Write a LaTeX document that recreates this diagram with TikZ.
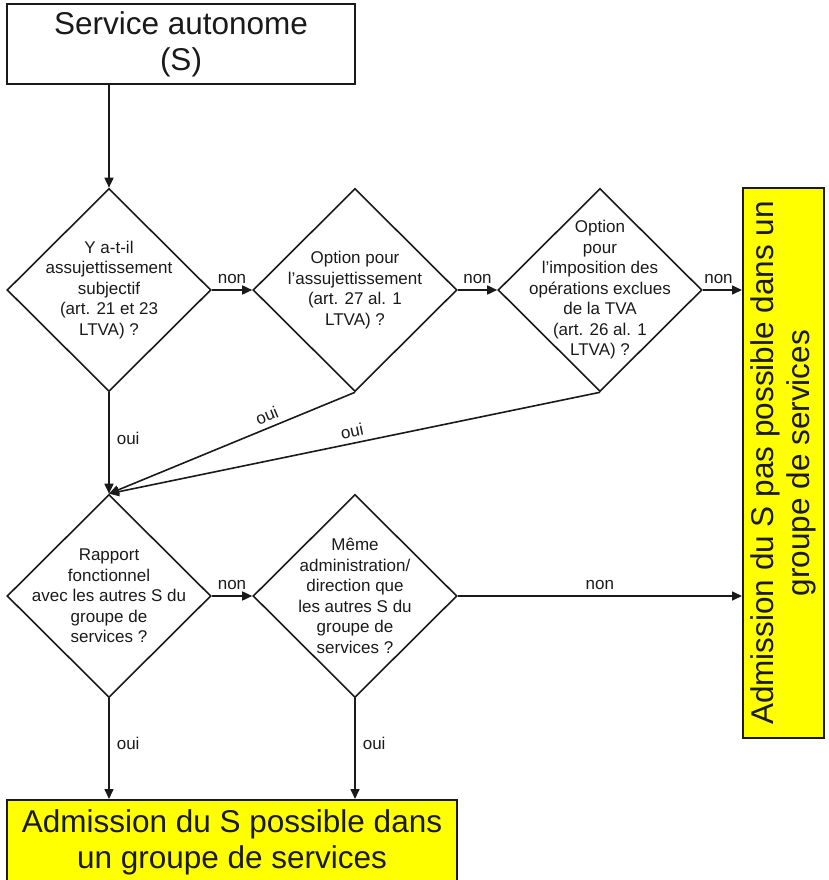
\documentclass[tikz,border=0pt]{standalone}
\usepackage{fontspec}
\setmainfont{Liberation Sans}
\usetikzlibrary{arrows.meta, positioning, shapes.geometric, calc}
\definecolor{cyellow}{HTML}{FFFF00}
\definecolor{cline}{HTML}{1A1A1A}
\tikzset{
  every picture/.style={line width=1.6pt, x=1pt, y=-1pt},
  box/.style={draw=cline, fill=#1, line width=2pt, align=center, inner sep=0pt, text=cline,
    font=\fontsize{31.5}{36}\selectfont},
  box/.default=white,
  ask/.style={draw=cline, diamond, aspect=1, minimum width=204pt, minimum height=203pt, inner sep=0pt},
  asktext/.style={align=center, text=cline, font=\fontsize{17}{20.5}\selectfont},
  arrow/.style={-{Triangle[length=10pt,width=9pt]}, draw=cline, line width=1.6pt},
  lbl/.style={font=\fontsize{17}{20}\selectfont, text=cline, inner sep=1pt},
}

\begin{document}
\begin{tikzpicture}
  \useasboundingbox (0,0) rectangle (828,880);
  % start
  \node[box, minimum width=348pt, minimum height=80pt] (start) at (181,44) {Service autonome\\(S)};
  % first row
  \node[ask] (d1) at (109,290) {};
  \node[asktext] (d1t) at (d1) {Y a-t-il\\assujettissement\\subjectif\\(art. 21 et 23\\LTVA) ?};
  \node[ask] (d2) at (355,290) {};
  \node[asktext] (d2t) at (d2) {Option pour\\l'assujettissement\\(art. 27 al. 1\\LTVA) ?};
  \node[ask] (d3) at (600,290) {};
  \node[asktext] (d3t) at (d3) {Option\\pour\\l'imposition des\\opérations exclues\\de la TVA\\(art. 26 al. 1\\LTVA) ?};
  % second row
  \node[ask] (d4) at (109,596) {};
  \node[asktext] (d4t) at (d4) {Rapport\\fonctionnel\\avec les autres S du\\groupe de\\services ?};
  \node[ask] (d5) at (355,596) {};
  \node[asktext] (d5t) at (d5) {Même\\administration/\\direction que\\les autres S du\\groupe de\\services ?};
  % outcomes
  \node[box=cyellow, rotate=90, minimum width=550pt, minimum height=81pt] (nope) at (783.5,463)
    {Admission du S pas possible dans un\\groupe de services};
  \node[box=cyellow, minimum width=450pt, minimum height=84pt] (yes) at (232,842)
    {Admission du S possible dans\\un groupe de services};
  % connectors
  \draw[arrow] (d1 |- start.south) -- (d1.north);
  \draw[arrow] (d1.east) -- node[lbl, above=5pt] {non} (d2.west);
  \draw[arrow] (d2.east) -- node[lbl, above=5pt] {non} (d3.west);
  \draw[arrow] (d3.east) -- node[lbl, above=5pt, pos=0.4] {non} (d3.east -| nope.north);
  \draw[arrow] (d1.south) -- node[lbl, right=6pt, pos=0.45] {oui} (d4.north);
  \draw[arrow] (d2.south) -- node[lbl, sloped, above=4pt, pos=0.34] {oui} (d4.north);
  \draw[arrow] (d3.south) -- node[lbl, sloped, above=4pt, pos=0.5] {oui} (d4.north);
  \draw[arrow] (d4.east) -- node[lbl, above=5pt] {non} (d5.west);
  \draw[arrow] (d5.east) -- node[lbl, above=5pt] {non} (d5.east -| nope.north);
  \draw[arrow] (d4.south) -- node[lbl, right=6pt, pos=0.45] {oui} (d4 |- yes.north);
  \draw[arrow] (d5.south) -- node[lbl, right=6pt, pos=0.45] {oui} (d5 |- yes.north);
\end{tikzpicture}
\end{document}
